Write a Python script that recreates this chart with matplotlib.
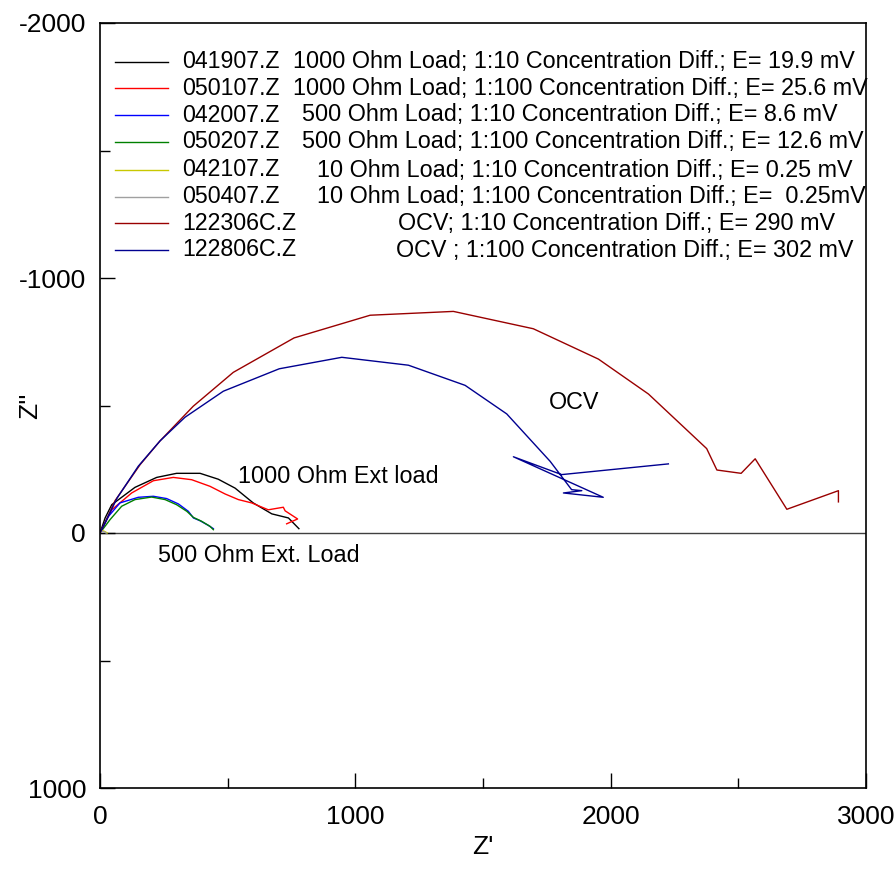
import matplotlib
matplotlib.use("Agg")
import matplotlib.pyplot as plt
from matplotlib.ticker import MultipleLocator

plt.rcParams["font.family"] = ["Liberation Sans", "DejaVu Sans"]
plt.rcParams["axes.unicode_minus"] = False

z_041907_re = [0, 20, 46, 137, 222, 300, 392, 463, 529, 600, 673, 738, 779]
z_041907_im = [0, -59, -111, -179, -218, -234, -234, -211, -176, -118, -75, -59, -17]

z_050107_re = [0, 46, 124, 209, 287, 359, 431, 490, 542, 594, 659, 718, 725, 774, 731]
z_050107_im = [0, -91, -157, -205, -218, -209, -183, -153, -131, -118, -91, -101, -87, -55, -36]

z_042007_re = [0, 33, 78, 150, 209, 261, 307, 346, 366, 392, 424, 444]
z_042007_im = [0, -65, -118, -140, -144, -135, -114, -85, -59, -48, -30, -17]

z_050207_re = [0, 39, 85, 137, 202, 255, 300, 340, 366, 398, 431, 444]
z_050207_im = [0, -52, -105, -131, -141, -131, -111, -85, -61, -46, -26, -13]

z_042107_re = [0, 6, 14, 22, 28]
z_042107_im = [0, -9, -8, -4, 0]

z_050407_re = [0, 5, 12, 19, 24]
z_050407_im = [0, -7, -6, -3, 0]

z_122306c_re = [0, 13, 59, 157, 235, 365, 522, 760, 1058, 1384, 1697, 1952,
                2148, 2376, 2416, 2511, 2566, 2690, 2892, 2892]
z_122306c_im = [0, -26, -127, -268, -361, -497, -630, -765, -854, -869, -801, -682,
                -545, -331, -247, -234, -291, -93, -166, -122]

z_122806c_re = [0, 13, 67, 150, 235, 333, 483, 702, 947, 1208, 1430, 1593, 1763,
                1847, 1887, 1815, 1971, 1619, 1808, 2226]
z_122806c_im = [0, -26, -137, -262, -361, -454, -556, -644, -689, -658, -579, -467, -281,
                -170, -166, -157, -140, -299, -229, -271]

files = ["041907.Z", "050107.Z", "042007.Z", "050207.Z",
         "042107.Z", "050407.Z", "122306C.Z", "122806C.Z"]
descriptions = [
    "1000 Ohm Load; 1:10 Concentration Diff.; E= 19.9 mV",
    "1000 Ohm Load; 1:100 Concentration Diff.; E= 25.6 mV",
    "500 Ohm Load; 1:10 Concentration Diff.; E= 8.6 mV",
    "500 Ohm Load; 1:100 Concentration Diff.; E= 12.6 mV",
    "10 Ohm Load; 1:10 Concentration Diff.; E= 0.25 mV",
    "10 Ohm Load; 1:100 Concentration Diff.; E=  0.25mV",
    "OCV; 1:10 Concentration Diff.; E= 290 mV",
    "OCV ; 1:100 Concentration Diff.; E= 302 mV",
]
colors = ["black", "#ff0000", "#0000ff", "#008000",
          "#c8c800", "#a0a0a0", "#990000", "#000090"]

series = [
    (z_041907_re, z_041907_im), (z_050107_re, z_050107_im),
    (z_042007_re, z_042007_im), (z_050207_re, z_050207_im),
    (z_042107_re, z_042107_im), (z_050407_re, z_050407_im),
    (z_122306c_re, z_122306c_im), (z_122806c_re, z_122806c_im),
]

fig = plt.figure(figsize=(8.95, 8.77), dpi=100)
ax = fig.add_axes([100 / 895, 89 / 877, 766 / 895, 765 / 877])

ax.axhline(0, color="#404040", lw=1.0, zorder=1)
for (re, im), c in zip(series, colors):
    ax.plot(re, im, color=c, lw=1.0, zorder=2)

ax.set_xlim(0, 3000)
ax.set_ylim(1000, -2000)
ax.xaxis.set_major_locator(MultipleLocator(1000))
ax.xaxis.set_minor_locator(MultipleLocator(500))
ax.yaxis.set_major_locator(MultipleLocator(1000))
ax.yaxis.set_minor_locator(MultipleLocator(500))
ax.tick_params(which="both", direction="in", width=1.0)
ax.tick_params(which="major", length=11)
ax.tick_params(which="minor", length=7)
ax.tick_params(axis="x", which="major", pad=12, labelsize=19)
ax.tick_params(axis="y", which="major", pad=10, labelsize=19)
for sp in ax.spines.values():
    sp.set_linewidth(1.2)

ax.set_xlabel("Z'", fontsize=19)
ax.set_ylabel("Z''", fontsize=19)
ax.xaxis.set_label_coords(0.5, -0.062)
ax.yaxis.set_label_coords(-0.076, 0.5)

# hand-drawn legend block, as in the original plot
row_px = [61.7, 88.3, 115, 141.7, 170, 196.7, 223.3, 250]
desc_left_px = [293, 293, 302, 302, 317, 317, 398, 396]
for i in range(len(files)):
    yf = (788 - row_px[i]) / 765
    ax.plot([0.0196, 0.0888], [yf, yf], color=colors[i], lw=1.0,
            transform=ax.transAxes)
    ax.text(0.107, yf, files[i], transform=ax.transAxes, fontsize=16.7,
            va="center", ha="left")
    ax.text((desc_left_px[i] - 100) / 766, yf, descriptions[i],
            transform=ax.transAxes, fontsize=16.8, va="center", ha="left")

ax.text((238 - 100) / 766, 1 - (476.7 - 23) / 765, "1000 Ohm Ext load",
        transform=ax.transAxes, fontsize=16.8, va="center", ha="left")
ax.text((158 - 100) / 766, 1 - (555 - 23) / 765, "500 Ohm Ext. Load",
        transform=ax.transAxes, fontsize=16.8, va="center", ha="left")
ax.text((549 - 100) / 766, 1 - (402.7 - 23) / 765, "OCV",
        transform=ax.transAxes, fontsize=16.8, va="center", ha="left")

fig.savefig("out.png", dpi=100)
